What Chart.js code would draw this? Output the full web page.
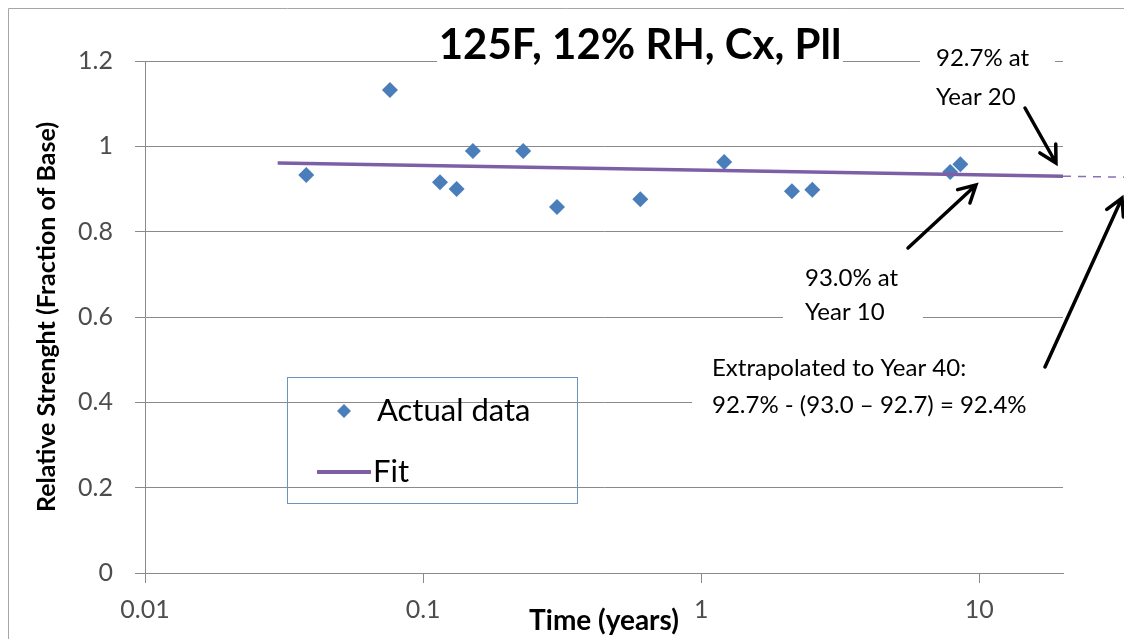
<!DOCTYPE html>
<html>
<head>
<meta charset="utf-8">
<script src="https://cdn.jsdelivr.net/npm/chart.js@4.4.1/dist/chart.umd.min.js"></script>
<style>
  html, body { margin: 0; padding: 0; background: #ffffff; }
  #wrap { position: relative; width: 1124px; height: 639px; }
</style>
</head>
<body>
<div id="wrap"><canvas id="c" width="1124" height="639"></canvas></div>
<script>
// ---- Texts ----
const chartTitle = '125F, 12% RH, Cx, Pll';
const xAxisTitle = 'Time (years)';
const yAxisTitle = 'Relative Strenght (Fraction of Base)';
const seriesNames = ['Actual data', 'Fit'];

// ---- Data ----
const timeYears   = [0.038, 0.076, 0.115, 0.132, 0.151, 0.229, 0.303, 0.604, 1.21, 2.12, 2.51, 7.86, 8.55];
const relStrength = [0.933, 1.132, 0.916, 0.900, 0.989, 0.989, 0.858, 0.876, 0.963, 0.895, 0.898, 0.940, 0.958];

const fitTime  = [0.03, 20];
const fitValue = [0.961, 0.930];

const extTime  = [20, 40];
const extValue = [0.930, 0.927];

// ---- Ticks ----
const xTickValues = [0.01, 0.1, 1, 10];
const xTickLabels = ['0.01', '0.1', '1', '10'];
const yTickValues = [0, 0.2, 0.4, 0.6, 0.8, 1.0, 1.2];
const yTickLabels = ['0', '0.2', '0.4', '0.6', '0.8', '1', '1.2'];

// ---- Annotation texts ----
const noteYear20 = ['92.7% at', 'Year 20'];
const noteYear10 = ['93.0% at', 'Year 10'];
const noteYear40 = ['Extrapolated to Year 40:', '92.7% - (93.0 \u2013 92.7) = 92.4%'];

const toXY = (xs, ys) => xs.map((x, i) => ({ x: x, y: ys[i] }));

const FONT = 'Lato, "Open Sans", sans-serif';
const pointColor = '#4a7ebb';
const fitColor = '#7d5fa6';
const gridColor = '#8a8a8a';
const tickColor = '#4d4d4d';

function drawArrow(ctx, x1, y1, x2, y2) {
  const ang = Math.atan2(y2 - y1, x2 - x1);
  const hl = 19, ha = 0.5;
  ctx.save();
  ctx.strokeStyle = '#000';
  ctx.lineWidth = 3.5;
  ctx.lineCap = 'round';
  ctx.beginPath();
  ctx.moveTo(x1, y1); ctx.lineTo(x2, y2);
  ctx.moveTo(x2 - hl * Math.cos(ang - ha), y2 - hl * Math.sin(ang - ha));
  ctx.lineTo(x2, y2);
  ctx.lineTo(x2 - hl * Math.cos(ang + ha), y2 - hl * Math.sin(ang + ha));
  ctx.stroke();
  ctx.restore();
}

const decorPlugin = {
  id: 'decor',
  beforeDraw(chart) {
    const ctx = chart.ctx;
    ctx.save();
    ctx.fillStyle = '#fff';
    ctx.fillRect(0, 0, chart.width, chart.height);
    ctx.strokeStyle = '#a6a6a6';
    ctx.lineWidth = 1;
    ctx.beginPath();
    ctx.moveTo(8.5, chart.height); ctx.lineTo(8.5, 8.5); ctx.lineTo(chart.width, 8.5);
    ctx.stroke();
    ctx.restore();
  },
  afterDraw(chart) {
    const ctx = chart.ctx;
    ctx.save();
    // white masks behind text boxes
    ctx.fillStyle = '#fff';
    ctx.fillRect(437, 28, 406, 38);
    ctx.fillRect(920, 38, 135, 80);
    ctx.fillRect(783, 258, 140, 72);
    ctx.fillRect(692, 348, 380, 72);

    // title
    ctx.fillStyle = '#000';
    ctx.font = 'bold 42px ' + FONT;
    ctx.textAlign = 'center';
    ctx.textBaseline = 'middle';
    ctx.fillText(chartTitle, 640, 45);

    // notes
    ctx.font = '24px ' + FONT;
    ctx.textAlign = 'left';
    ctx.fillText(noteYear20[0], 936, 58);
    ctx.fillText(noteYear20[1], 936, 97);
    ctx.fillText(noteYear10[0], 805, 278);
    ctx.fillText(noteYear10[1], 805, 312);
    ctx.fillText(noteYear40[0], 712, 368);
    ctx.fillText(noteYear40[1], 712, 405);

    // arrows
    drawArrow(ctx, 1025, 108, 1056, 163);
    drawArrow(ctx, 908, 248, 976, 185);
    drawArrow(ctx, 1045, 367, 1122, 198);

    // legend
    ctx.strokeStyle = '#6f93c0';
    ctx.lineWidth = 1;
    ctx.strokeRect(287.5, 377.5, 290, 126);
    const ds0 = chart.data.datasets[0];
    ctx.fillStyle = ds0.backgroundColor;
    ctx.beginPath();
    ctx.moveTo(344 - 7, 411); ctx.lineTo(344, 411 - 7); ctx.lineTo(344 + 7, 411); ctx.lineTo(344, 411 + 7);
    ctx.closePath(); ctx.fill();
    ctx.strokeStyle = chart.data.datasets[1].borderColor;
    ctx.lineWidth = 4;
    ctx.beginPath(); ctx.moveTo(317, 472); ctx.lineTo(371, 472); ctx.stroke();
    ctx.fillStyle = '#000';
    ctx.font = '31px ' + FONT;
    ctx.textBaseline = 'middle';
    ctx.fillText(seriesNames[0], 377, 411);
    ctx.fillText(seriesNames[1], 373, 472);
    ctx.restore();
  }
};

new Chart(document.getElementById('c'), {
  type: 'scatter',
  data: {
    datasets: [
      {
        label: seriesNames[0],
        data: toXY(timeYears, relStrength),
        pointStyle: 'rectRot',
        pointRadius: 8,
        backgroundColor: pointColor,
        borderColor: pointColor,
        borderWidth: 0,
        order: 2
      },
      {
        label: seriesNames[1],
        data: toXY(fitTime, fitValue),
        showLine: true,
        pointRadius: 0,
        borderColor: fitColor,
        borderWidth: 3.5,
        order: 1
      },
      {
        label: 'Extrapolation',
        data: toXY(extTime, extValue),
        showLine: true,
        pointRadius: 0,
        borderColor: '#8a70b3',
        borderWidth: 1.5,
        borderDash: [8, 7],
        clip: false,
        order: 1
      }
    ]
  },
  options: {
    responsive: false,
    animation: false,
    events: [],
    layout: { padding: { top: 61, right: 61, left: 0, bottom: 0 } },
    plugins: { legend: { display: false }, title: { display: false }, tooltip: { enabled: false } },
    scales: {
      x: {
        type: 'logarithmic',
        min: 0.01,
        max: 20,
        afterBuildTicks: s => { s.ticks = xTickValues.map(v => ({ value: v })); },
        afterFit: s => { s.height = 66; },
        ticks: {
          autoSkip: false, maxRotation: 0, padding: 12,
          color: tickColor,
          font: { family: FONT, size: 25 },
          callback: v => { const i = xTickValues.indexOf(v); return i >= 0 ? xTickLabels[i] : ''; }
        },
        grid: { drawOnChartArea: false, drawTicks: true, tickLength: 10, color: gridColor },
        border: { display: true, color: gridColor },
        title: {
          display: true, text: xAxisTitle, color: '#000',
          font: { family: FONT, size: 28, weight: 'bold' },
          padding: { top: 0, bottom: 1 }
        }
      },
      y: {
        type: 'linear',
        min: 0,
        max: 1.2,
        afterBuildTicks: s => { s.ticks = yTickValues.map(v => ({ value: v })); },
        afterFit: s => { s.width = 145; },
        ticks: {
          padding: 22,
          color: tickColor,
          font: { family: FONT, size: 25 },
          callback: v => { const i = yTickValues.findIndex(t => Math.abs(t - v) < 1e-9); return i >= 0 ? yTickLabels[i] : ''; }
        },
        grid: { drawTicks: true, tickLength: 10, color: gridColor },
        border: { display: true, color: gridColor },
        title: {
          display: true, text: yAxisTitle, color: '#000',
          font: { family: FONT, size: 25, weight: 'bold' },
          padding: { top: 32, bottom: 0 }
        }
      }
    }
  },
  plugins: [decorPlugin]
});
</script>
</body>
</html>
